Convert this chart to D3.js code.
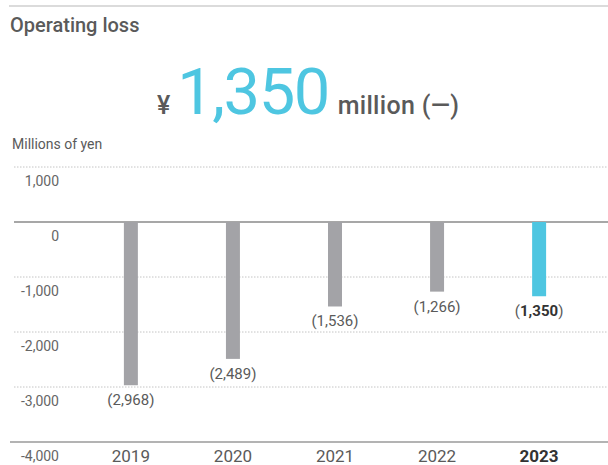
<!DOCTYPE html>
<html>
<head>
<meta charset="utf-8">
<script src="https://cdn.jsdelivr.net/npm/d3@7"></script>
<style>
  html, body { margin: 0; padding: 0; background: #fff; }
  svg { display: block; font-family: Roboto, "Noto Sans", sans-serif; }
</style>
</head>
<body>
<svg id="chart" width="608" height="465"></svg>
<script>
// Operating loss by fiscal year, millions of yen
const years = ["2019", "2020", "2021", "2022", "2023"];
const values = [-2968, -2489, -1536, -1266, -1350];
const yTicks = [1000, 0, -1000, -2000, -3000, -4000];
const highlightYear = "2023";

const svg = d3.select("#chart");
const W = 608, H = 465;

const x = d3.scaleBand().domain(years).range([80, 590]).paddingInner(0.863).paddingOuter(0.43);
const y = d3.scaleLinear().domain([-4000, 1000]).range([442, 167]);

const grey = "#a3a3a7", cyan = "#4ec6e1", textGrey = "#5a5a5a";

// Top rule
svg.append("line").attr("x1", 9).attr("x2", W).attr("y1", 6).attr("y2", 6)
  .attr("stroke", "#cfcfcf").attr("stroke-width", 1.5);

// Title
svg.append("text").attr("x", 10).attr("y", 32)
  .attr("font-size", 20).attr("font-weight", 500).attr("fill", textGrey)
  .text("Operating loss");

// Headline figure
const head = svg.append("text").attr("x", 157).attr("y", 114).attr("text-anchor", "start").attr("fill", textGrey);
head.append("tspan").attr("font-size", 25).attr("font-weight", 500).text("¥");
head.append("tspan").attr("dx", 7).attr("font-size", 65).attr("letter-spacing", -1.5).attr("fill", cyan)
  .text(d3.format(",")(-values[values.length - 1]));
head.append("tspan").attr("dx", 9).attr("font-size", 25).attr("font-weight", 500).attr("letter-spacing", 0.3).text("million (—)");

// Unit label
svg.append("text").attr("x", 12).attr("y", 149)
  .attr("font-size", 14).attr("fill", textGrey).text("Millions of yen");

// Gridlines
const grid = svg.append("g");
yTicks.forEach(t => {
  const g = grid.append("line")
    .attr("x1", t === -4000 ? 10 : 14).attr("x2", W)
    .attr("y1", y(t)).attr("y2", y(t));
  if (t === 0) g.attr("stroke", "#8a8a8a").attr("stroke-width", 1.3);
  else if (t === -4000) g.attr("stroke", "#9a9a9a").attr("stroke-width", 1.6);
  else g.attr("stroke", "#c4c4c4").attr("stroke-width", 1).attr("stroke-dasharray", "1.5,1.5");
});

// Tick labels sit just below their gridlines
svg.append("g").selectAll("text").data(yTicks).join("text")
  .attr("x", 59).attr("y", d => y(d) + 19)
  .attr("text-anchor", "end").attr("font-size", 14).attr("fill", "#666")
  .text(d => d3.format(",")(d).replace("−", "-"));

// Bars
svg.append("g").selectAll("rect").data(years).join("rect")
  .attr("x", (d) => x(d))
  .attr("width", x.bandwidth())
  .attr("y", y(0))
  .attr("height", (d, i) => y(values[i]) - y(0))
  .attr("fill", d => d === highlightYear ? cyan : grey);

// Value labels under each bar
const labels = svg.append("g").selectAll("text").data(years).join("text")
  .attr("x", d => x(d) + x.bandwidth() / 2)
  .attr("y", (d, i) => y(values[i]) + 20)
  .attr("text-anchor", "middle").attr("font-size", 15).attr("fill", textGrey);
labels.each(function (d, i) {
  const t = d3.select(this);
  const s = d3.format(",")(-values[i]);
  if (d === highlightYear) {
    t.append("tspan").text("(");
    t.append("tspan").attr("font-weight", 700).attr("fill", "#333").text(s);
    t.append("tspan").text(")");
  } else {
    t.text("(" + s + ")");
  }
});

// Year labels
svg.append("g").selectAll("text").data(years).join("text")
  .attr("x", d => x(d) + x.bandwidth() / 2)
  .attr("y", 462)
  .attr("text-anchor", "middle").attr("font-size", 17)
  .attr("font-weight", d => d === highlightYear ? 700 : 400)
  .attr("fill", d => d === highlightYear ? "#333" : textGrey)
  .text(d => d);
</script>
</body>
</html>
